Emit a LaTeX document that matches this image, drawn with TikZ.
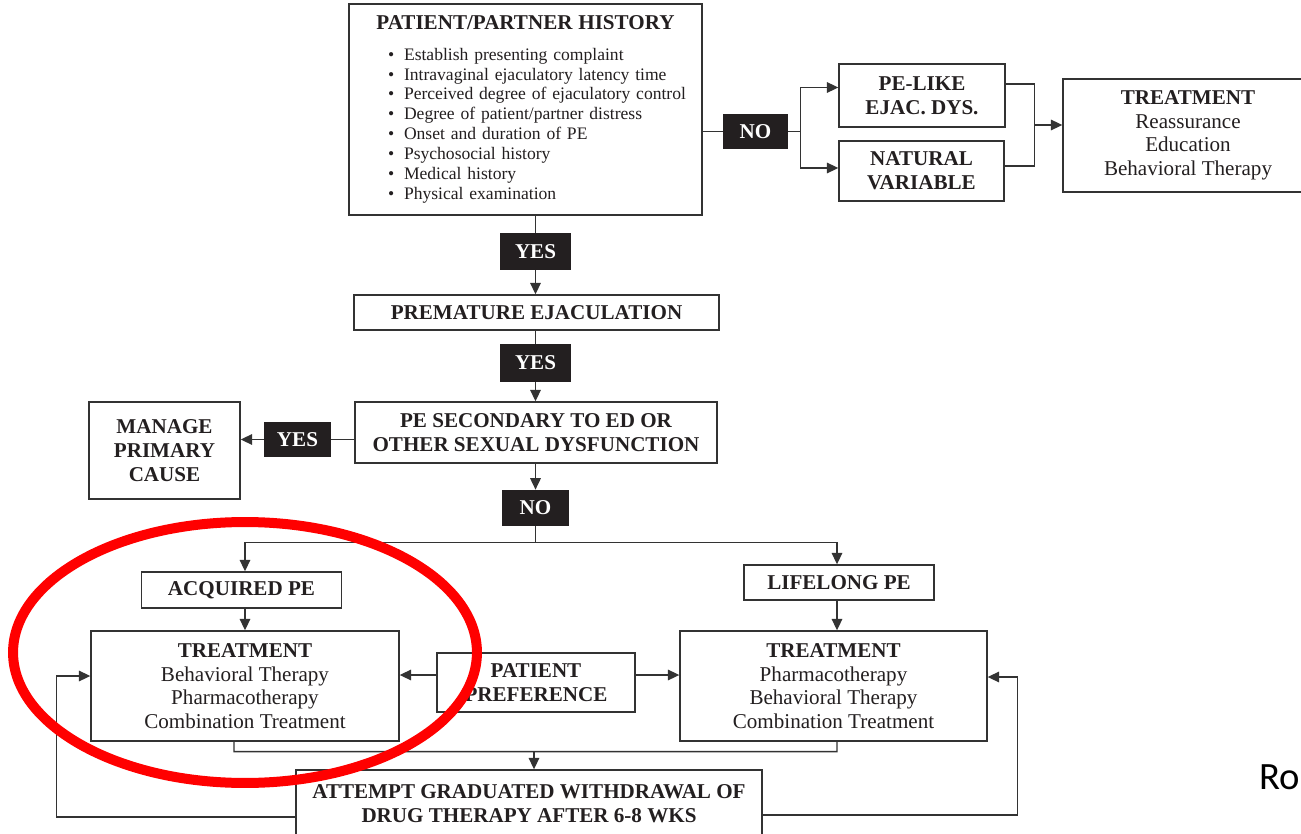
\documentclass[tikz,border=0pt]{standalone}
\usepackage{fontspec}
\setmainfont{Liberation Serif}
\newfontfamily\slidefont{Carlito}
\usetikzlibrary{arrows.meta,calc}
\definecolor{inkgray}{HTML}{333333}
\definecolor{tagfill}{HTML}{231F20}
\definecolor{ringred}{HTML}{FF0000}

\begin{document}
\begin{tikzpicture}[
  x=0.02cm, y=-0.02cm,
  font=\fontsize{12}{13.6}\selectfont,
  >={Triangle[length=6.5pt,width=6pt]},
  flowbox/.style={draw=inkgray, line width=0.8pt, fill=white, text=tagfill,
                  inner sep=0pt, align=center,
                  font=\fontsize{12}{13.8}\selectfont\bfseries},
  treatbox/.style={flowbox, font=\fontsize{12}{13.4}\selectfont},
  tagbox/.style={fill=tagfill, text=white, inner sep=0pt,
                 font=\fontsize{12}{13.6}\selectfont\bfseries},
  arr/.style={->, line width=0.8pt, inkgray},
  link/.style={line width=0.8pt, inkgray},
  ring/.style={draw=ringred, line width=0.2cm},
]
\useasboundingbox (0,0) rectangle (1301,834);
\clip (0,0) rectangle (1301,834);

% ---- History ----
\node[flowbox, text width=7.06cm, align=left, minimum height=4.22cm,
      font=\fontsize{10}{11.34}\selectfont] (history) at (525.5,109.5) {%
  \noindent\makebox[7.06cm]{\fontsize{12}{13.6}\selectfont\bfseries PATIENT/PARTNER HISTORY}\\[6pt]
  \hspace*{0.78cm}\makebox[0.32cm][l]{\textbullet}Establish presenting complaint\\
  \hspace*{0.78cm}\makebox[0.32cm][l]{\textbullet}Intravaginal ejaculatory latency time\\
  \hspace*{0.78cm}\makebox[0.32cm][l]{\textbullet}Perceived degree of ejaculatory control\\
  \hspace*{0.78cm}\makebox[0.32cm][l]{\textbullet}Degree of patient/partner distress\\
  \hspace*{0.78cm}\makebox[0.32cm][l]{\textbullet}Onset and duration of PE\\
  \hspace*{0.78cm}\makebox[0.32cm][l]{\textbullet}Psychosocial history\\
  \hspace*{0.78cm}\makebox[0.32cm][l]{\textbullet}Medical history\\
  \hspace*{0.78cm}\makebox[0.32cm][l]{\textbullet}Physical examination%
};

% ---- NO branch ----
\node[tagbox, minimum width=1.3cm, minimum height=0.7cm] (noTop) at (755.5,131.5) {NO};
\node[flowbox, minimum width=3.32cm, minimum height=1.26cm] (peLike) at (922,95.5) {PE-LIKE\\EJAC. DYS.};
\node[flowbox, minimum width=3.3cm, minimum height=1.2cm] (natVar) at (921.5,171) {NATURAL\\VARIABLE};
\node[treatbox, minimum width=5.0cm, minimum height=2.26cm] (treatTop) at (1188,135.5)
  {\textbf{TREATMENT}\\Reassurance\\Education\\Behavioral Therapy};

% ---- main column ----
\node[tagbox, minimum width=1.42cm, minimum height=0.74cm] (yesA) at (535.5,251.5) {YES};
\node[flowbox, minimum width=7.3cm, minimum height=0.7cm] (premature) at (536.5,312.5) {PREMATURE EJACULATION};
\node[tagbox, minimum width=1.42cm, minimum height=0.76cm] (yesB) at (535.5,363) {YES};
\node[flowbox, minimum width=7.24cm, minimum height=1.22cm] (secondary) at (536,432.5)
  {PE SECONDARY TO ED OR\\OTHER SEXUAL DYSFUNCTION};
\node[tagbox, minimum width=1.34cm, minimum height=0.72cm] (yesC) at (297.5,439.5) {YES};
\node[flowbox, minimum width=3.02cm, minimum height=1.94cm] (manage) at (164.5,450.5) {MANAGE\\PRIMARY\\CAUSE};
\node[tagbox, minimum width=1.34cm, minimum height=0.72cm] (noB) at (535.5,508) {NO};

% ---- acquired / lifelong ----
\node[flowbox, minimum width=4.0cm, minimum height=0.72cm] (acquired) at (241.5,590) {ACQUIRED PE};
\node[flowbox, minimum width=3.8cm, minimum height=0.7cm] (lifelong) at (839,582.5) {LIFELONG PE};
\node[treatbox, minimum width=6.16cm, minimum height=2.2cm] (treatAcq) at (245,686)
  {\textbf{TREATMENT}\\Behavioral Therapy\\Pharmacotherapy\\Combination Treatment};
\node[treatbox, minimum width=6.14cm, minimum height=2.2cm] (treatLife) at (833.5,686)
  {\textbf{TREATMENT}\\Pharmacotherapy\\Behavioral Therapy\\Combination Treatment};
\node[flowbox, minimum width=3.96cm, minimum height=1.18cm] (preference) at (536,682.5) {PATIENT\\PREFERENCE};
\node[flowbox, minimum width=9.32cm, minimum height=1.36cm] (withdraw) at (529,804)
  {ATTEMPT GRADUATED WITHDRAWAL OF\\DRUG THERAPY AFTER 6-8 WKS};

\node[anchor=base west, inner sep=0pt, font=\slidefont\fontsize{22}{26}\selectfont] (credit) at (1259,789) {Ro};

% connectors, top right
\coordinate (noSplit) at ($(noTop.east)+(12,0)$);
\coordinate (treatJoin) at ($(treatTop.west)+(-28,-10.5)$);
\draw[link] (noTop.west) -- (noTop.west -| history.east);
\draw[arr] (noTop.east) -- (noSplit) |- ([yshift=0.16cm]peLike.west);
\draw[arr] (noSplit) |- ([yshift=0.06cm]natVar.west);
\draw[link] ([yshift=0.23cm]peLike.east) -| (treatJoin);
\draw[link] ([yshift=0.1cm]natVar.east) -| (treatJoin);
\draw[arr] (treatJoin) -- (treatJoin -| treatTop.west);

% connectors, main column
\draw[link] (yesA.north |- history.south) -- (yesA.north);
\draw[arr] (yesA.south) -- (yesA.south |- premature.north);
\draw[link] (yesB.north |- premature.south) -- (yesB.north);
\draw[arr] (yesB.south) -- (yesB.south |- secondary.north);
\draw[link] (yesC.east) -- (yesC.east -| secondary.west);
\draw[arr] (yesC.west) -- (yesC.west -| manage.east);
\draw[arr] (noB.north |- secondary.south) -- (noB.north);

% split to acquired / lifelong
\coordinate (noJoin) at ($(noB.south)+(0,16)$);
\draw[link] (noB.south) -- (noJoin);
\draw[arr] (noJoin) -| (acquired.north -| treatAcq.north);
\draw[arr] (noJoin) -| ([xshift=-0.04cm]lifelong.north);
\draw[arr] (acquired.south -| treatAcq.north) -- (treatAcq.north);
\draw[arr] ([xshift=-0.04cm]lifelong.south) -- ([xshift=-0.04cm]lifelong.south |- treatLife.north);
\draw[arr] ([yshift=0.15cm]preference.west) -- ([yshift=0.15cm]preference.west -| treatAcq.east);
\draw[arr] ([yshift=0.15cm]preference.east) -- ([yshift=0.15cm]preference.east -| treatLife.west);

% withdrawal and feedback loops
\coordinate (backJoin) at ($(treatAcq.south)+(-11,10)$);
\draw[link] ([xshift=-0.22cm]treatAcq.south) -- (backJoin) -| ([xshift=0.07cm]treatLife.south);
\draw[arr] ($(backJoin -| withdraw.north)+(5,0)$) -- ($(withdraw.north)+(5,0)$);
\draw[arr] ([yshift=-0.26cm]withdraw.west) -- ++(-239,0) |- ([yshift=0.2cm]treatAcq.west);
\draw[arr] ([yshift=-0.22cm]withdraw.east) -- ++(255,0) |- ([yshift=0.18cm]treatLife.east);

% highlight ring
\draw[ring] (245,652.5) ellipse [x radius=4.64cm, y radius=2.61cm];

\end{tikzpicture}
\end{document}
